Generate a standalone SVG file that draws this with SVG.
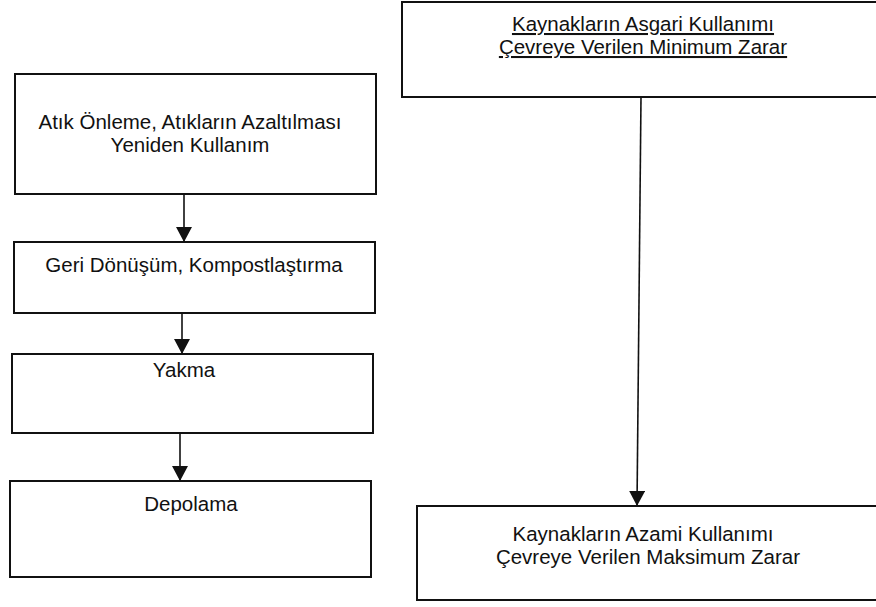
<svg xmlns="http://www.w3.org/2000/svg" width="876" height="607" viewBox="0 0 876 607">
  <style>
    .box { fill: #ffffff; stroke: #111111; stroke-width: 2; }
    .lbl { font-family: "Liberation Sans", Arial, sans-serif; font-size: 20.5px; fill: #111111; text-anchor: middle; }
    .ul { text-decoration: underline; }
    .wire { stroke: #111111; stroke-width: 1.6; fill: none; }
  </style>
  <defs>
    <marker id="head" viewBox="0 0 15 16" refX="15" refY="8" markerWidth="15" markerHeight="16" markerUnits="userSpaceOnUse" orient="auto">
      <path d="M0,0 L15,8 L0,16 Z" fill="#111111"/>
    </marker>
  </defs>
  <rect width="876" height="607" fill="#ffffff"/>

  <!-- left column: waste hierarchy -->
  <g id="atik-onleme">
    <rect class="box" x="15" y="74" width="361" height="120"/>
    <text class="lbl" x="190" y="129">Atık Önleme, Atıkların Azaltılması</text>
    <text class="lbl" x="190" y="152">Yeniden Kullanım</text>
  </g>
  <g id="geri-donusum">
    <rect class="box" x="14" y="242" width="361" height="71"/>
    <text class="lbl" x="194" y="272">Geri Dönüşüm, Kompostlaştırma</text>
  </g>
  <g id="yakma">
    <rect class="box" x="12" y="354" width="361" height="79"/>
    <text class="lbl" x="184" y="377">Yakma</text>
  </g>
  <g id="depolama">
    <rect class="box" x="10" y="481" width="361" height="96"/>
    <text class="lbl" x="191" y="511">Depolama</text>
  </g>

  <!-- right column: resource use scale -->
  <g id="asgari">
    <rect class="box" x="402" y="2" width="480" height="95"/>
    <text class="lbl ul" x="643" y="31">Kaynakların Asgari Kullanımı</text>
    <text class="lbl ul" x="643" y="54">Çevreye Verilen Minimum Zarar</text>
  </g>
  <g id="azami">
    <rect class="box" x="417" y="506" width="465" height="94"/>
    <text class="lbl" x="643" y="541">Kaynakların Azami Kullanımı</text>
    <text class="lbl" x="648" y="564">Çevreye Verilen Maksimum Zarar</text>
  </g>

  <g id="connectors">
    <line class="wire" x1="184" y1="194" x2="184" y2="242" marker-end="url(#head)"/>
    <line class="wire" x1="182" y1="313" x2="182" y2="354" marker-end="url(#head)"/>
    <line class="wire" x1="180" y1="433" x2="180" y2="481" marker-end="url(#head)"/>
    <line class="wire" x1="641" y1="97" x2="637" y2="506" marker-end="url(#head)"/>
  </g>
</svg>
